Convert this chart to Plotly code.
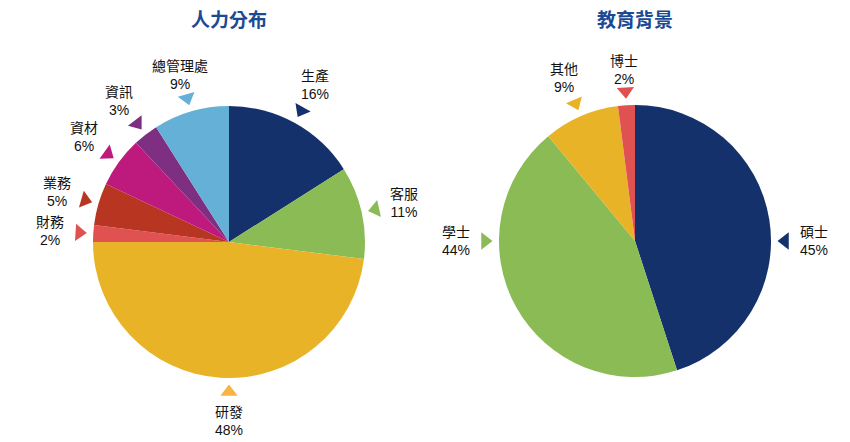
"""Two pie charts: staffing by department and education background."""

import math

import plotly.graph_objects as go

# ---- data -------------------------------------------------------------
staff_labels = ["生產", "客服", "研發", "財務", "業務", "資材", "資訊", "總管理處"]
staff_values = [16, 11, 48, 2, 5, 6, 3, 9]
staff_colors = ["#15316B", "#8BBB55", "#E9B327", "#E05252",
                "#B83522", "#BE1A7D", "#7F2F82", "#65B0D6"]
staff_marker_colors = ["#15316B", "#8BBB55", "#F6B443", "#E05252",
                       "#B83522", "#BE1A7D", "#7F2F82", "#65B0D6"]

edu_labels = ["碩士", "學士", "其他", "博士"]
edu_values = [45, 44, 9, 2]
edu_colors = ["#15316B", "#8BBB55", "#E9B327", "#E05252"]

W, H = 850, 442
FONT = "Liberation Sans, Arial, Noto Sans CJK TC, sans-serif"
TITLE_COLOR = "#1B4A94"


def pie_block(fig, title, labels, values, colors, tri_colors, cx, cy, r):
    """Add a pie centred at pixel (cx, cy) plus triangle pointers and labels."""
    fig.add_trace(go.Pie(
        labels=labels,
        values=values,
        sort=False,
        direction="clockwise",
        rotation=0,
        textinfo="none",
        hoverinfo="label+percent",
        marker=dict(colors=colors, line=dict(width=0)),
        domain=dict(x=[(cx - r) / W, (cx + r) / W],
                    y=[(H - cy - r) / H, (H - cy + r) / H]),
        showlegend=False,
    ))

    total = sum(values)
    tri_x, tri_y, tri_ang = [], [], []
    cum = 0
    for lab, val in zip(labels, values):
        mid = (cum + val / 2) / total * 360
        cum += val
        # large slices carry their label on the nearest axis direction
        if val / total > 0.4:
            mid = round(mid / 90) * 90
        s, c = math.sin(math.radians(mid)), math.cos(math.radians(mid))
        tri_x.append(cx + (r + 14) * s)
        tri_y.append(cy - (r + 14) * c)
        tri_ang.append(mid)
        # labels almost straight above the pie sit a little closer to it
        lr = r + 43 - 8 * max(0.0, (c - 0.9) / 0.1)
        fig.add_annotation(
            x=cx + lr * s, y=cy - lr * c,
            xref="x", yref="y",
            text=f"{lab}<br>{round(val / total * 100)}%",
            showarrow=False, align="center",
            font=dict(family=FONT, size=14, color="#111111"),
        )

    fig.add_trace(go.Scatter(
        x=tri_x, y=tri_y, mode="markers",
        marker=dict(symbol="triangle-down", size=15, angle=tri_ang,
                    color=tri_colors, line=dict(width=0)),
        hoverinfo="skip", showlegend=False,
    ))

    fig.add_annotation(
        x=cx, y=18, xref="x", yref="y", text=f"<b>{title}</b>",
        showarrow=False,
        font=dict(family="Noto Sans CJK TC, sans-serif", size=19, color=TITLE_COLOR),
    )


fig = go.Figure()
pie_block(fig, "人力分布", staff_labels, staff_values, staff_colors,
          staff_marker_colors, 229, 242, 136)
pie_block(fig, "教育背景", edu_labels, edu_values, edu_colors,
          edu_colors, 635, 241, 136)

fig.update_layout(
    width=W,
    height=H,
    margin=dict(l=0, r=0, t=0, b=0),
    paper_bgcolor="white",
    plot_bgcolor="rgba(0,0,0,0)",
    xaxis=dict(range=[0, W], visible=False, fixedrange=True),
    yaxis=dict(range=[H, 0], visible=False, fixedrange=True),
)

# drop the browser's default body margin so the figure sits at the page corner
fig.write_html(
    "out.html",
    config={"displayModeBar": False},
    post_script="document.body.style.margin = '0';",
)
